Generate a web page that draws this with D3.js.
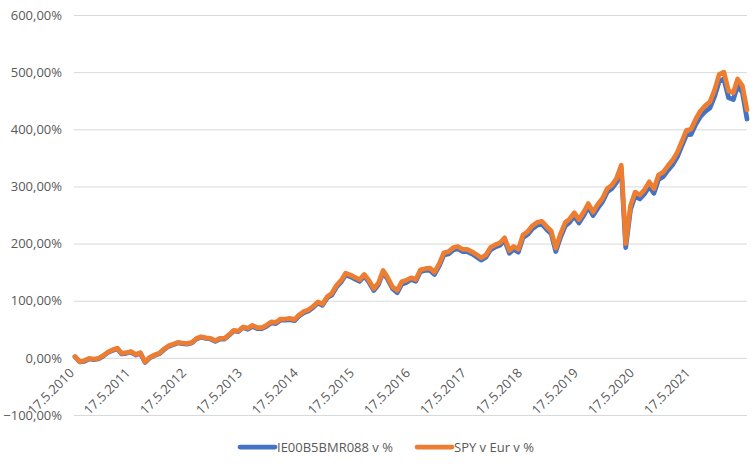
<!DOCTYPE html>
<html>
<head>
<meta charset="utf-8">
<script src="https://cdn.jsdelivr.net/npm/d3@7"></script>
<style>
  body { margin: 0; background: #fff; }
  text { font-family: "Open Sans", sans-serif; fill: #595959; }
</style>
</head>
<body>
<div id="chart"></div>
<script>
// months of the data (one point per month, taken at the 17th)
const months = [
  "2010-05","2010-06","2010-07","2010-08","2010-09","2010-10","2010-11","2010-12","2011-01","2011-02","2011-03","2011-04",
  "2011-05","2011-06","2011-07","2011-08","2011-09","2011-10","2011-11","2011-12","2012-01","2012-02","2012-03","2012-04",
  "2012-05","2012-06","2012-07","2012-08","2012-09","2012-10","2012-11","2012-12","2013-01","2013-02","2013-03","2013-04",
  "2013-05","2013-06","2013-07","2013-08","2013-09","2013-10","2013-11","2013-12","2014-01","2014-02","2014-03","2014-04",
  "2014-05","2014-06","2014-07","2014-08","2014-09","2014-10","2014-11","2014-12","2015-01","2015-02","2015-03","2015-04",
  "2015-05","2015-06","2015-07","2015-08","2015-09","2015-10","2015-11","2015-12","2016-01","2016-02","2016-03","2016-04",
  "2016-05","2016-06","2016-07","2016-08","2016-09","2016-10","2016-11","2016-12","2017-01","2017-02","2017-03","2017-04",
  "2017-05","2017-06","2017-07","2017-08","2017-09","2017-10","2017-11","2017-12","2018-01","2018-02","2018-03","2018-04",
  "2018-05","2018-06","2018-07","2018-08","2018-09","2018-10","2018-11","2018-12","2019-01","2019-02","2019-03","2019-04",
  "2019-05","2019-06","2019-07","2019-08","2019-09","2019-10","2019-11","2019-12","2020-01","2020-02","2020-03","2020-04",
  "2020-05","2020-06","2020-07","2020-08","2020-09","2020-10","2020-11","2020-12","2021-01","2021-02","2021-03","2021-04",
  "2021-05","2021-06","2021-07","2021-08","2021-09","2021-10","2021-11","2021-12","2022-01","2022-02","2022-03","2022-04",
  "2022-05"
];

// IE00B5BMR088 v %
const ieValues = [
  2,-7,-6,-2,-3,-2,3,9,13,16,7,8,
  10,5,8,-8,0,4,7,14,20,23,26,25,
  24,26,33,36,34,33,29,33,33,40,47,46,
  53,50,55,51,51,55,61,60,66,66,67,65,
  73,79,82,88,96,92,105,110,124,133,145,142,
  138,134,143,132,118,128,150,137,121,114,129,132,
  137,134,151,153,153,146,161,180,182,189,191,186,
  186,182,177,171,176,189,194,197,206,183,190,185,
  210,216,226,232,234,225,217,186,211,231,237,248,
  236,249,264,249,262,273,290,296,307,330,193,259,
  283,278,287,300,288,312,317,328,338,352,370,390,
  391,409,422,431,437,457,484,488,455,452,476,464,
  418
];

// SPY v Eur v %
const spyValues = [
  2,-7,-5,-1,-2,-1,4,10,14,17,8,9,
  11,6,9,-7,1,5,8,15,21,24,27,26,
  25,27,34,37,35,34,30,34,34,41,48,47,
  54,52,57,53,53,57,63,62,68,68,69,67,
  75,81,84,90,98,94,107,113,127,136,148,145,
  141,137,146,135,121,131,153,140,124,118,133,136,
  140,137,154,156,157,150,165,184,186,193,195,190,
  190,186,181,175,180,193,198,201,210,188,195,190,
  215,221,231,237,239,230,222,192,217,237,243,254,
  242,255,270,255,269,279,296,302,314,337,200,266,
  290,285,294,308,296,320,325,336,346,360,378,398,
  400,418,432,441,448,468,496,500,467,464,488,476,
  434
];

const xTickLabels = ["17.5.2010","17.5.2011","17.5.2012","17.5.2013","17.5.2014","17.5.2015",
  "17.5.2016","17.5.2017","17.5.2018","17.5.2019","17.5.2020","17.5.2021"];
const yTicks = [-100, 0, 100, 200, 300, 400, 500, 600];
const seriesNames = ["IE00B5BMR088 v %", "SPY v Eur v %"];
const seriesColors = ["#4472C4", "#ED7D31"];

const width = 754, height = 468;
const margin = { top: 15, right: 7, bottom: 53, left: 75 };

const parseMonth = d3.timeParse("%Y-%m-%d");
const parseTick = d3.timeParse("%d.%m.%Y");
const dates = months.map(m => parseMonth(m + "-17"));

const svg = d3.select("#chart").append("svg")
  .attr("width", width)
  .attr("height", height);

const x = d3.scaleTime()
  .domain([parseTick("17.5.2010"), parseTick("17.5.2022")])
  .range([margin.left, width - margin.right]);

const y = d3.scaleLinear()
  .domain([-100, 600])
  .range([height - margin.bottom, margin.top]);

const fmt = v => d3.format(".2f")(v).replace(".", ",") + "%";

// gridlines + y labels
const yAxis = svg.append("g")
  .attr("transform", "translate(" + (margin.left - 1) + ",0)")
  .call(d3.axisLeft(y).tickValues(yTicks).tickFormat(fmt)
    .tickSize(-(width - margin.right - margin.left + 1)).tickPadding(12));
yAxis.select(".domain").remove();
yAxis.selectAll(".tick line").attr("stroke", "#d9d9d9").attr("stroke-width", 1);
yAxis.selectAll(".tick text").style("font-size", "13px").style("font-family", "Open Sans").attr("fill", "#595959");

// x labels, rotated, hanging under the 0 line
svg.append("g").selectAll("text")
  .data(xTickLabels)
  .join("text")
  .attr("transform", d => "translate(" + x(parseTick(d)) + "," + (y(0) + 16) + ") rotate(-45)")
  .attr("text-anchor", "end")
  .style("font-size", "13px")
  .text(d => d);

// lines
const line = d3.line()
  .x((d, i) => x(dates[i]))
  .y(d => y(d));

[ieValues, spyValues].forEach((vals, k) => {
  svg.append("path")
    .datum(vals)
    .attr("fill", "none")
    .attr("stroke", seriesColors[k])
    .attr("stroke-width", 4.75)
    .attr("stroke-linejoin", "round")
    .attr("stroke-linecap", "round")
    .attr("d", line);
});

// legend
const legendX = [240, 417];
const legend = svg.append("g");
seriesNames.forEach((name, k) => {
  legend.append("line")
    .attr("x1", legendX[k]).attr("x2", legendX[k] + 35)
    .attr("y1", 447).attr("y2", 447)
    .attr("stroke", seriesColors[k])
    .attr("stroke-width", 4.75)
    .attr("stroke-linecap", "round");
  legend.append("text")
    .attr("x", legendX[k] + 37)
    .attr("y", 447)
    .attr("dy", "0.35em")
    .style("font-size", "13px")
    .text(name);
});
</script>
</body>
</html>
